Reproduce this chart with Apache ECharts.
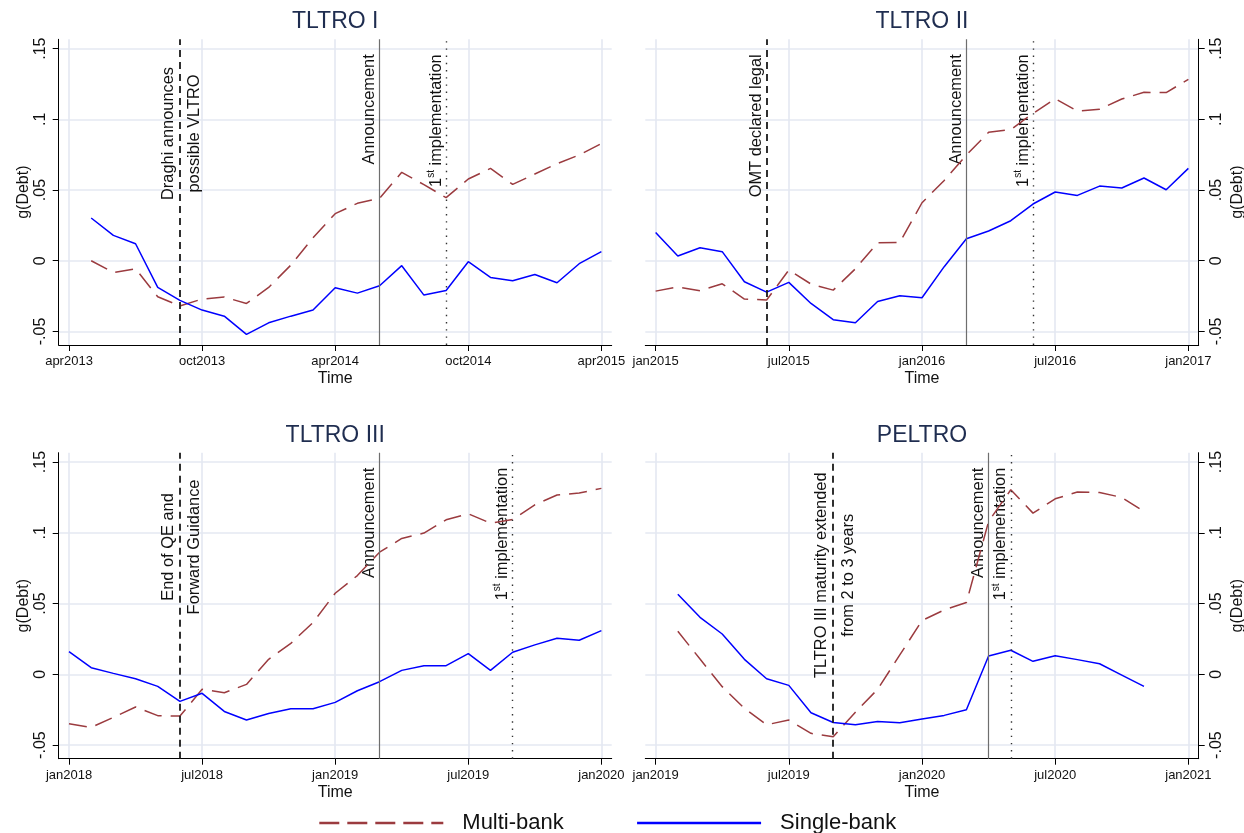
<!DOCTYPE html>
<html>
<head>
<meta charset="utf-8">
<title>g(Debt) around TLTRO announcements</title>
<script src="https://cdn.jsdelivr.net/npm/echarts@6.0.0/dist/echarts.min.js"></script>
<style>
html, body { margin: 0; padding: 0; background: #fff; }
#chart { width: 1244px; height: 833px; }
</style>
</head>
<body>
<div id="chart"></div>
<script>
// shared y ticks (Stata style labels)
const yTicks = [-0.05, 0, 0.05, 0.1, 0.15]
const yTickLabels = ['-.05', '0', '.05', '.1', '.15']

// TLTRO I
const tltro1Months = ['2013-05', '2013-06', '2013-07', '2013-08', '2013-09', '2013-10', '2013-11', '2013-12',
  '2014-01', '2014-02', '2014-03', '2014-04', '2014-05', '2014-06', '2014-07', '2014-08', '2014-09', '2014-10',
  '2014-11', '2014-12', '2015-01', '2015-02', '2015-03', '2015-04']
const tltro1Multi = [0, -0.0083, -0.0057, -0.0255, -0.032, -0.0271, -0.0257, -0.0302, -0.0189, -0.0031, 0.0163, 0.0333,
  0.0406, 0.0441, 0.0625, 0.0538, 0.0446, 0.0578, 0.0653, 0.054, 0.0613, 0.0686, 0.0748, 0.0828]
const tltro1Single = [0.0302, 0.0179, 0.012, -0.0189, -0.028, -0.0349, -0.0392, -0.0521, -0.0439, -0.0392, -0.0349, -0.0191,
  -0.0229, -0.0177, -0.0035, -0.0243, -0.021, -0.0007, -0.0118, -0.0142, -0.0097, -0.0156, -0.0021, 0.0064]
const tltro1Ticks = ['2013-04', '2013-10', '2014-04', '2014-10', '2015-04']
const tltro1Events = ['2013-09', '2014-06', '2014-09']
const tltro1EventText = [['Draghi announces', 'possible VLTRO'], ['Announcement'], ['1st implementation']]

// TLTRO II
const tltro2Months = ['2015-01', '2015-02', '2015-03', '2015-04', '2015-05', '2015-06', '2015-07', '2015-08', '2015-09',
  '2015-10', '2015-11', '2015-12', '2016-01', '2016-02', '2016-03', '2016-04', '2016-05', '2016-06', '2016-07',
  '2016-08', '2016-09', '2016-10', '2016-11', '2016-12', '2017-01']
const tltro2Multi = [-0.0215, -0.0186, -0.0212, -0.0163, -0.0271, -0.0278, -0.0066, -0.0165, -0.0208, -0.0057, 0.0127, 0.013,
  0.041, 0.0568, 0.0748, 0.0908, 0.0927, 0.1042, 0.1146, 0.1059, 0.1071, 0.1144, 0.1191, 0.1189, 0.1283]
const tltro2Single = [0.02, 0.0033, 0.0092, 0.0064, -0.0149, -0.0222, -0.0153, -0.0302, -0.0417, -0.0439, -0.0288, -0.0248,
  -0.0262, -0.0042, 0.0156, 0.021, 0.0283, 0.0401, 0.0486, 0.0462, 0.0528, 0.0514, 0.0585, 0.0502, 0.0653]
const tltro2Ticks = ['2015-01', '2015-07', '2016-01', '2016-07', '2017-01']
const tltro2Events = ['2015-06', '2016-03', '2016-06']
const tltro2EventText = [['OMT declared legal'], ['Announcement'], ['1st implementation']]

// TLTRO III
const tltro3Months = ['2018-01', '2018-02', '2018-03', '2018-04', '2018-05', '2018-06', '2018-07', '2018-08', '2018-09',
  '2018-10', '2018-11', '2018-12', '2019-01', '2019-02', '2019-03', '2019-04', '2019-05', '2019-06', '2019-07',
  '2019-08', '2019-09', '2019-10', '2019-11', '2019-12', '2020-01']
const tltro3Multi = [-0.0349, -0.0375, -0.0304, -0.0231, -0.0292, -0.0295, -0.0106, -0.013, -0.0071, 0.0106, 0.0219, 0.0366,
  0.0573, 0.0698, 0.0863, 0.096, 0.0998, 0.1092, 0.1134, 0.1068, 0.1094, 0.1198, 0.1267, 0.1281, 0.1314]
const tltro3Single = [0.016, 0.0047, 0.0007, -0.0031, -0.0085, -0.0191, -0.0134, -0.0262, -0.0323, -0.0276, -0.0243, -0.0243,
  -0.0198, -0.0116, -0.0052, 0.0028, 0.0061, 0.0061, 0.0146, 0.0028, 0.0156, 0.0208, 0.0255, 0.0241, 0.0309]
const tltro3Ticks = ['2018-01', '2018-07', '2019-01', '2019-07', '2020-01']
const tltro3Events = ['2018-06', '2019-03', '2019-09']
const tltro3EventText = [['End of QE and', 'Forward Guidance'], ['Announcement'], ['1st implementation']]

// PELTRO
const peltroMonths = ['2019-02', '2019-03', '2019-04', '2019-05', '2019-06', '2019-07', '2019-08', '2019-09', '2019-10',
  '2019-11', '2019-12', '2020-01', '2020-02', '2020-03', '2020-04', '2020-05', '2020-06', '2020-07', '2020-08',
  '2020-09', '2020-10', '2020-11']
const peltroMulti = [0.0304, 0.0108, -0.0087, -0.0241, -0.0356, -0.0323, -0.0417, -0.0441, -0.0267, -0.0106, 0.0137, 0.038,
  0.0455, 0.0507, 0.108, 0.1304, 0.1139, 0.124, 0.1288, 0.1285, 0.125, 0.1151]
const peltroSingle = [0.0566, 0.0403, 0.0285, 0.0106, -0.0031, -0.0078, -0.0271, -0.034, -0.0356, -0.0333, -0.0342, -0.0316,
  -0.029, -0.025, 0.013, 0.017, 0.0092, 0.0132, 0.0104, 0.0075, -0.0005, -0.0085]
const peltroTicks = ['2019-01', '2019-07', '2020-01', '2020-07', '2021-01']
const peltroEvents = ['2019-09', '2020-04', '2020-05']
const peltroEventText = [['TLTRO III maturity extended', 'from 2 to 3 years'], ['Announcement'], ['1st implementation']]

const fontFamily = "'Liberation Sans', Arial, Helvetica, sans-serif"
const monthNames = ['jan', 'feb', 'mar', 'apr', 'may', 'jun', 'jul', 'aug', 'sep', 'oct', 'nov', 'dec']
const yMin = -0.0596
const yMax = 0.1566

function monthIndex(s) {
  const parts = s.split('-')
  return Number(parts[0]) * 12 + Number(parts[1]) - 1
}
function monthLabel(idx) {
  return monthNames[((idx % 12) + 12) % 12] + Math.floor(idx / 12)
}

const panels = [
  { title: 'TLTRO I', months: tltro1Months, multi: tltro1Multi, single: tltro1Single, ticks: tltro1Ticks, events: tltro1Events, eventText: tltro1EventText },
  { title: 'TLTRO II', months: tltro2Months, multi: tltro2Multi, single: tltro2Single, ticks: tltro2Ticks, events: tltro2Events, eventText: tltro2EventText },
  { title: 'TLTRO III', months: tltro3Months, multi: tltro3Multi, single: tltro3Single, ticks: tltro3Ticks, events: tltro3Events, eventText: tltro3EventText },
  { title: 'PELTRO', months: peltroMonths, multi: peltroMulti, single: peltroSingle, ticks: peltroTicks, events: peltroEvents, eventText: peltroEventText }
]

// layout
const gridBoxes = [
  { left: 58.7, top: 39.3, width: 553, height: 305.7 },
  { left: 645.3, top: 39.3, width: 553.4, height: 305.7 },
  { left: 58.7, top: 452.7, width: 553, height: 306 },
  { left: 645.3, top: 452.7, width: 553.4, height: 306 }
]
const axisSide = ['left', 'right', 'left', 'right']
const blockLabelY = [0.09, 0.09, 0.09, 0.07]
const eventStyles = [
  { type: [7, 5], color: '#1a1a1a', width: 1.8 },
  { type: 'solid', color: '#6e6e6e', width: 1.2 },
  { type: [1.4, 5.8], color: '#333', width: 1.4 }
]
const gridColor = '#e4e8f2'

const chart = echarts.init(document.getElementById('chart'))

const xAxes = []
const yAxes = []
const series = []
const titles = []

panels.forEach((p, i) => {
  const tickIdx = p.ticks.map(monthIndex)
  const box = gridBoxes[i]
  titles.push({
    text: p.title,
    left: box.left + box.width / 2,
    top: box.top - 29,
    textAlign: 'center',
    padding: 0,
    textStyle: { fontSize: 23, fontWeight: 'normal', color: '#1f2d50', fontFamily }
  })
  xAxes.push({
    type: 'value',
    gridIndex: i,
    min: tickIdx[0] - 0.465,
    max: tickIdx[tickIdx.length - 1] + 0.465,
    name: 'Time',
    nameLocation: 'middle',
    nameGap: 26,
    nameTextStyle: { fontSize: 16, color: '#111', fontFamily },
    axisLine: { show: true, onZero: false, lineStyle: { color: '#000', width: 1 } },
    axisTick: { show: true, length: 6, customValues: tickIdx, lineStyle: { color: '#000' } },
    axisLabel: {
      customValues: tickIdx,
      formatter: v => monthLabel(Math.round(v)),
      fontSize: 13, color: '#111', fontFamily, margin: 10
    },
    splitLine: { show: true, lineStyle: { color: gridColor, width: 1.6 } }
  })
  const right = axisSide[i] === 'right'
  yAxes.push({
    type: 'value',
    gridIndex: i,
    position: axisSide[i],
    min: yMin,
    max: yMax,
    name: 'g(Debt)',
    nameLocation: 'middle',
    nameRotate: 90,
    nameGap: right ? 31 : 27,
    nameTextStyle: { fontSize: 16, color: '#111', fontFamily },
    axisLine: { show: true, onZero: false, lineStyle: { color: '#000', width: 1 } },
    axisTick: { show: true, length: 6, customValues: yTicks, lineStyle: { color: '#000' } },
    axisLabel: {
      customValues: yTicks,
      rotate: 90,
      margin: 10,
      formatter: v => {
        const k = yTicks.findIndex(t => Math.abs(t - v) < 1e-9)
        return k >= 0 ? yTickLabels[k] : ''
      },
      fontSize: 16, color: '#111', fontFamily
    },
    splitLine: { show: true, lineStyle: { color: gridColor, width: 1.6 } }
  })

  series.push({
    name: 'Multi-bank',
    type: 'line',
    xAxisIndex: i,
    yAxisIndex: i,
    symbol: 'none',
    data: p.months.map((m, k) => [monthIndex(m), p.multi[k]]),
    lineStyle: { color: '#9b3b3f', width: 1.5, type: [18, 9] },
    itemStyle: { color: '#9b3b3f' },
    markLine: {
      silent: true,
      symbol: ['none', 'none'],
      label: { show: false },
      animation: false,
      data: p.events.map((ev, k) => ({ xAxis: monthIndex(ev), lineStyle: eventStyles[k] }))
    },
    z: 3
  })
  series.push({
    name: 'Single-bank',
    type: 'line',
    xAxisIndex: i,
    yAxisIndex: i,
    symbol: 'none',
    data: p.months.map((m, k) => [monthIndex(m), p.single[k]]),
    lineStyle: { color: '#0000ff', width: 1.5 },
    itemStyle: { color: '#0000ff' },
    z: 4
  })
})

chart.setOption({
  backgroundColor: '#fff',
  animation: false,
  title: titles,
  grid: gridBoxes.map(b => Object.assign({ containLabel: false, outerBoundsMode: 'none' }, b)),
  xAxis: xAxes,
  yAxis: yAxes,
  legend: {
    left: 318,
    top: 812,
    padding: 0,
    itemWidth: 124,
    itemHeight: 14,
    itemGap: 72,
    selectedMode: false,
    data: [
      { name: 'Multi-bank', lineStyle: { width: 2.6, type: [20, 8] }, itemStyle: { opacity: 0 } },
      { name: 'Single-bank', lineStyle: { width: 2.6 }, itemStyle: { opacity: 0 } }
    ],
    textStyle: { fontSize: 22, color: '#111', fontFamily, padding: [0, 0, 0, 14] }
  },
  series: series
})

// vertical annotation texts next to the event lines
const graphics = []
panels.forEach((p, i) => {
  p.events.forEach((ev, k) => {
    const lines = p.eventText[k]
    const x = monthIndex(ev)
    if (lines.length > 1) {
      const pt = chart.convertToPixel({ gridIndex: i }, [x, blockLabelY[i]])
      graphics.push({
        type: 'text', silent: true, x: pt[0] + 1.5, y: pt[1], rotation: Math.PI / 2,
        style: { text: lines.join('\n'), align: 'center', verticalAlign: 'middle', lineHeight: 26.6,
          fontSize: 16.4, fontFamily, fill: '#111' }
      })
    } else {
      const pt = chart.convertToPixel({ gridIndex: i }, [x, yMax])
      let style = { text: lines[0], align: 'right', verticalAlign: 'middle', fontSize: 16.4, fontFamily, fill: '#111' }
      if (lines[0].indexOf('1st') === 0) {
        style = {
          text: '{n|1}{s|st}{n|' + lines[0].slice(3) + '}',
          align: 'right', verticalAlign: 'middle', fill: '#111',
          rich: {
            n: { fontSize: 16.4, fontFamily, fill: '#111', lineHeight: 20 },
            s: { fontSize: 10, fontFamily, fill: '#111', verticalAlign: 'top', lineHeight: 14 }
          }
        }
      }
      graphics.push({ type: 'text', silent: true, x: pt[0] - 10, y: pt[1] + 15, rotation: Math.PI / 2, style: style })
    }
  })
})
chart.setOption({ graphic: graphics })
</script>
</body>
</html>
